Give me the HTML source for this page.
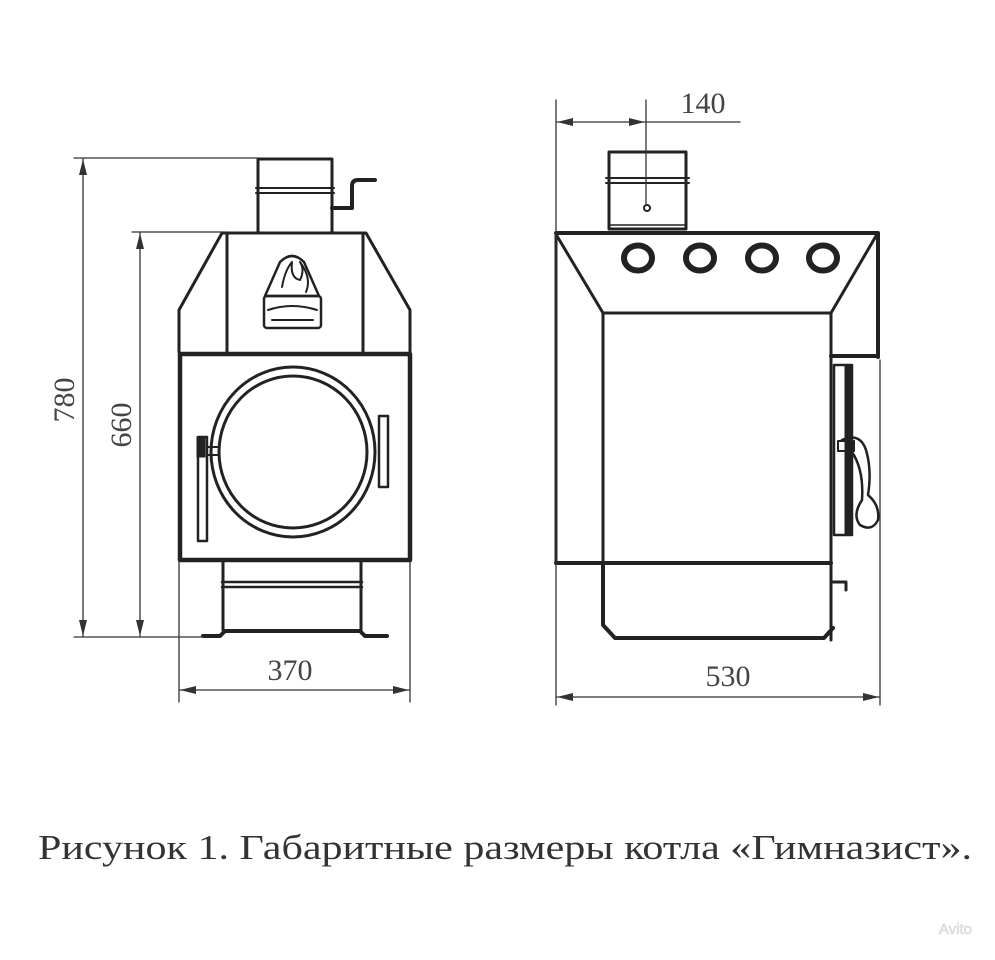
<!DOCTYPE html>
<html><head><meta charset="utf-8"><style>
html,body{margin:0;padding:0;background:#fff;}
svg{display:block;}
</style></head><body>
<svg width="995" height="960" viewBox="0 0 995 960" xmlns="http://www.w3.org/2000/svg">
<defs>
<marker id="ar" viewBox="0 0 16 8" refX="16" refY="4" markerWidth="16" markerHeight="8" markerUnits="userSpaceOnUse" orient="auto-start-reverse">
<path d="M0,0 L16,4 L0,8 Z" fill="#333"/></marker>
</defs>
<g fill="none" stroke="#222" stroke-linecap="round" stroke-linejoin="round">
<rect x="258" y="159" width="74" height="74" stroke-width="3"/>
<line x1="256" y1="188" x2="334" y2="188" stroke-width="2"/>
<line x1="256" y1="193" x2="334" y2="193" stroke-width="2"/>
<path d="M332 208 H352 V186 Q352 180 358 180 H375" stroke-width="4"/>
<path d="M179 352 V310 L222 233 H366 L410 310 V352" stroke-width="3"/>
<line x1="227" y1="233" x2="227" y2="352" stroke-width="3"/>
<line x1="363" y1="233" x2="363" y2="352" stroke-width="3"/>
<path d="M265 296 L280 262 Q292 250 304 262 L319 296 Z" stroke-width="2.5"/>
<path d="M282 287 Q285 270 292 262 Q290 278 300 280 Q305 270 300 262 Q312 278 306 292" stroke-width="2"/>
<rect x="264" y="296" width="57" height="32" rx="3" stroke-width="2.5"/>
<path d="M268 310 Q292 302 317 310" stroke-width="2"/>
<line x1="272" y1="320" x2="313" y2="320" stroke-width="2"/>
<rect x="180" y="354" width="230" height="206" stroke-width="4.5"/>
<ellipse cx="293" cy="452" rx="82" ry="85" stroke-width="3"/>
<ellipse cx="293" cy="452" rx="74" ry="76" stroke-width="3"/>
<rect x="379" y="416" width="9" height="71" stroke-width="2.5"/>
<rect x="198" y="437" width="9" height="104" stroke-width="2.5"/>
<rect x="197" y="437" width="8" height="20" fill="#222" stroke-width="1"/>
<rect x="207" y="447" width="12" height="8" stroke-width="2"/>
<path d="M223 562 V630 M361 562 V630" stroke-width="3"/>
<line x1="222" y1="582" x2="362" y2="582" stroke-width="2.5"/>
<line x1="222" y1="587" x2="362" y2="587" stroke-width="2.5"/>
<path d="M203 636 H220 L225 631 H360 L365 636 H387" stroke-width="4"/>
<g stroke="#333" stroke-width="1.3">
<line x1="74" y1="158" x2="258" y2="158"/>
<line x1="132" y1="232" x2="226" y2="232"/>
<line x1="74" y1="637" x2="203" y2="637"/>
<line x1="83" y1="159" x2="83" y2="636" marker-start="url(#ar)" marker-end="url(#ar)"/>
<line x1="140" y1="233" x2="140" y2="636" marker-start="url(#ar)" marker-end="url(#ar)"/>
<line x1="179" y1="562" x2="179" y2="702"/>
<line x1="410" y1="562" x2="410" y2="702"/>
<line x1="180" y1="690" x2="409" y2="690" marker-start="url(#ar)" marker-end="url(#ar)"/>
</g>
<rect x="609" y="152" width="77" height="77" stroke-width="3"/>
<line x1="606" y1="178" x2="689" y2="178" stroke-width="2"/>
<line x1="606" y1="183" x2="689" y2="183" stroke-width="2"/>
<line x1="610" y1="225" x2="685" y2="225" stroke-width="1.5"/>
<circle cx="647" cy="208" r="3" stroke-width="2"/>
<path d="M556 233 H878 V357" stroke-width="4"/>
<line x1="556" y1="233" x2="556" y2="563" stroke-width="3"/>
<path d="M557 236 L603 313 H831 L876 236" stroke-width="3"/>
<line x1="603" y1="313" x2="603" y2="563" stroke-width="3"/>
<line x1="831" y1="313" x2="831" y2="640" stroke-width="3"/>
<line x1="831" y1="356" x2="878" y2="356" stroke-width="4"/>
<g stroke-width="6">
<ellipse cx="638" cy="258" rx="14" ry="12.5"/>
<ellipse cx="700" cy="258" rx="14" ry="12.5"/>
<ellipse cx="762" cy="258" rx="14" ry="12.5"/>
<ellipse cx="823" cy="258" rx="14" ry="12.5"/>
</g>
<rect x="834" y="365" width="18" height="170" stroke-width="2.5"/>
<rect x="845" y="365" width="6" height="170" fill="#222" stroke-width="1"/>
<path d="M842 440 Q860 432 866 450 Q872 470 868 495 Q880 505 878 520 Q872 532 860 525 Q852 515 862 500 Q864 470 852 452" stroke-width="2.5"/>
<rect x="838" y="441" width="16" height="10" stroke-width="2"/>
<line x1="556" y1="563" x2="831" y2="563" stroke-width="4"/>
<path d="M603 563 V625 L615 638 H824 L833 628" stroke-width="4"/>
<path d="M833 582 H846 V590" stroke-width="3"/>
<g stroke="#333" stroke-width="1.3">
<line x1="556" y1="100" x2="556" y2="705"/>
<line x1="880" y1="360" x2="880" y2="705"/>
<line x1="646" y1="100" x2="646" y2="205"/>
<line x1="557" y1="122" x2="645" y2="122" marker-start="url(#ar)" marker-end="url(#ar)"/>
<line x1="646" y1="122" x2="740" y2="122"/>
<line x1="557" y1="697" x2="879" y2="697" marker-start="url(#ar)" marker-end="url(#ar)"/>
</g>
</g>
<g font-family="'Liberation Serif', serif" fill="#444" font-size="30">
<text x="703" y="113" text-anchor="middle">140</text>
<text x="290" y="680" text-anchor="middle">370</text>
<text x="728" y="686" text-anchor="middle">530</text>
<text transform="translate(74,400) rotate(-90)" text-anchor="middle">780</text>
<text transform="translate(131,425) rotate(-90)" text-anchor="middle">660</text>
<text x="38" y="859" font-size="35" textLength="934" lengthAdjust="spacingAndGlyphs" fill="#333">Рисунок 1.  Габаритные размеры котла «Гимназист».</text>
</g>
<text x="972" y="934" text-anchor="end" font-family="'Liberation Sans', sans-serif" font-size="15" fill="#eee" stroke="#ccc" stroke-width="0.5">Avito</text>
</svg>
</body></html>
